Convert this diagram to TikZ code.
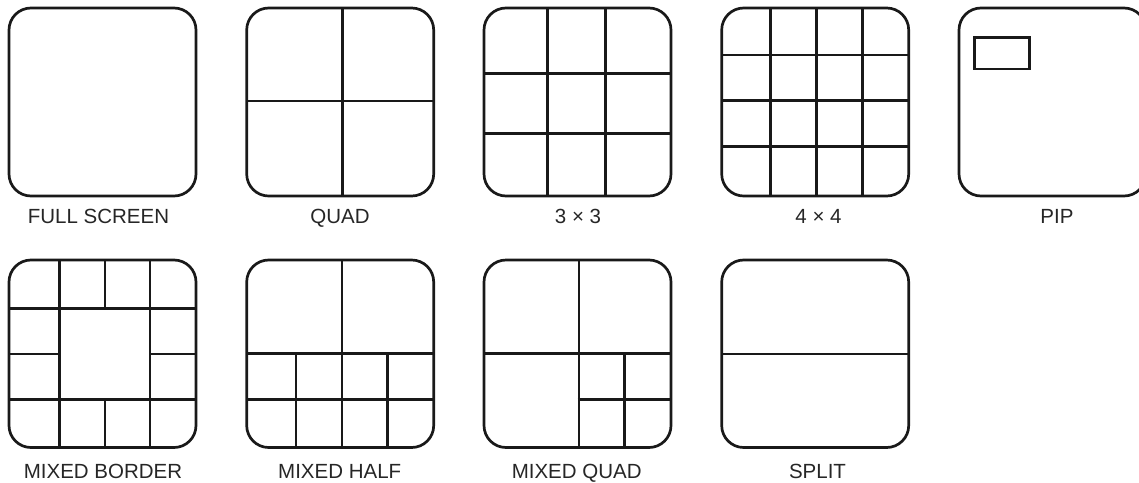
\documentclass[tikz,border=0pt]{standalone}
\usepackage{fontspec}
\setmainfont{Liberation Sans}
\tikzset{
  screen/.style={draw=black!90, line width=2.7pt, rounded corners=22pt},
  divider/.style={draw=black!90, line width=2.6pt},
  pipbox/.style={draw=black!90, line width=2.4pt},
  caption/.style={anchor=base, inner sep=0pt, font=\fontsize{20.5}{24}\selectfont, text=black!85}
}
\begin{document}
\begin{tikzpicture}[x=1pt,y=-1pt]
\useasboundingbox (0,0) rectangle (1139,482);
% ---------- row 1 ----------
% FULL SCREEN
\draw[screen] (9,8) rectangle (196,196);
\node[caption] (l1) at (98.5,223) {FULL SCREEN};
% QUAD
\draw[screen] (246.7,8) rectangle (433.7,196);
\draw[divider] (342.7,8) -- (342.7,196);
\draw[divider] (246.7,101) -- (433.7,101);
\node[caption] (l2) at (340,223) {QUAD};
% 3x3
\draw[screen] (484,8) rectangle (671,196);
\draw[divider] (547.3,8) -- (547.3,196);
\draw[divider] (605.7,8) -- (605.7,196);
\draw[divider] (484,73.3) -- (671,73.3);
\draw[divider] (484,133.3) -- (671,133.3);
\node[caption] (l3) at (578,223) {3 × 3};
% 4x4
\draw[screen] (721.7,8) rectangle (908.7,196);
\draw[divider] (770.7,8) -- (770.7,196);
\draw[divider] (816.3,8) -- (816.3,196);
\draw[divider] (862.3,8) -- (862.3,196);
\draw[divider] (721.7,55) -- (908.7,55);
\draw[divider] (721.7,100.7) -- (908.7,100.7);
\draw[divider] (721.7,146.7) -- (908.7,146.7);
\node[caption] (l4) at (818.5,223) {4 × 4};
% PIP
\draw[screen] (959,8) rectangle (1146,196);
\draw[pipbox] (974.3,37.3) rectangle (1029.3,69);
\node[caption] (l5) at (1057,223) {PIP};
% ---------- row 2 ----------
% MIXED BORDER
\draw[screen] (9,260) rectangle (196,447.5);
\draw[divider] (59.3,260) -- (59.3,447.5);
\draw[divider] (150,260) -- (150,447.5);
\draw[divider] (105,260) -- (105,308.3);
\draw[divider] (105,399.3) -- (105,447.5);
\draw[divider] (9,308.3) -- (196,308.3);
\draw[divider] (9,399.3) -- (196,399.3);
\draw[divider] (9,354) -- (59.3,354);
\draw[divider] (150,354) -- (196,354);
\node[caption] (l6) at (103,478) {MIXED BORDER};
% MIXED HALF
\draw[screen] (246.7,260) rectangle (433.7,447.5);
\draw[divider] (342,260) -- (342,353.3);
\draw[divider] (246.7,353.3) -- (433.7,353.3);
\draw[divider] (246.7,399.3) -- (433.7,399.3);
\draw[divider] (296,353.3) -- (296,447.5);
\draw[divider] (342,353.3) -- (342,447.5);
\draw[divider] (387.3,353.3) -- (387.3,447.5);
\node[caption] (l7) at (339.7,478) {MIXED HALF};
% MIXED QUAD
\draw[screen] (484,260) rectangle (671,447.5);
\draw[divider] (579,260) -- (579,447.5);
\draw[divider] (484,353.3) -- (671,353.3);
\draw[divider] (624.3,353.3) -- (624.3,447.5);
\draw[divider] (577.5,399.3) -- (671,399.3);
\node[caption] (l8) at (576.7,478) {MIXED QUAD};
% SPLIT
\draw[screen] (721.7,260) rectangle (908.7,447.5);
\draw[divider] (721.7,354) -- (908.7,354);
\node[caption] (l9) at (817.5,478) {SPLIT};
\end{tikzpicture}
\end{document}
